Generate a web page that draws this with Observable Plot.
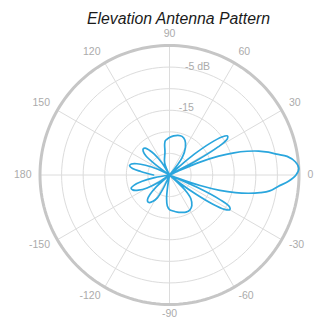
<!DOCTYPE html>
<html>
<head>
<meta charset="utf-8">
<script src="https://cdn.jsdelivr.net/npm/d3@7"></script>
<script src="https://cdn.jsdelivr.net/npm/@observablehq/plot@0.6"></script>
<style>
  html, body { margin: 0; padding: 0; background: #fff; }
  svg { display: block; }
</style>
</head>
<body>
<div id="chart"></div>
<script>
// ---- data ----
const title = "Elevation Antenna Pattern";
// elevation angle (deg) and gain (dB), clipped at the -30 dB floor
const angles = [
  -180, -173, -170, -167, -164, -161, -158, -154, -150, -146, -143,
  -141, -138, -135, -132, -129, -126, -122, -118, -115, -112,
  -101, -99, -97, -94, -90, -84, -78, -72, -66, -60, -54, -48, -44, -41,
  -40, -38, -36, -34, -32, -30, -28, -26, -24,
  -23, -21, -19, -17, -15, -13, -11, -9, -6, -3,
  0,
  3, 6, 9, 11, 13, 15, 17, 19, 21, 23,
  24, 26, 28, 30, 32, 34, 36, 38, 40,
  41, 44, 48, 54, 60, 66, 72, 78, 84, 90, 94, 97, 99, 101,
  112, 115, 118, 122, 126, 129, 132, 135, 138, 141,
  143, 146, 150, 154, 158, 161, 164, 167, 170, 173, 180
];
const gains = [
  -30, -30, -26.5, -23.5, -21.5, -20.6, -20.8, -22, -24, -27, -30,
  -30, -25.8, -23.6, -22.4, -22, -22.1, -22.8, -24, -26.5, -30,
  -30, -27, -24.5, -22.8, -22, -21.6, -21.2, -20.9, -20.6, -20.6, -21.2, -22.6, -25, -30,
  -30, -27, -22.5, -18, -15, -13.9, -14.2, -17, -23, -30,
  -28, -22.5, -17.8, -14.2, -11.2, -8.6, -6.5, -4.7, -2.4, -0.7,
  0,
  -0.7, -2.4, -4.7, -6.5, -8.6, -11.2, -14.2, -17.8, -22.5, -28,
  -30, -23, -17, -14.2, -13.8, -15, -18, -22.5, -27, -30,
  -30, -25, -22.6, -21.2, -20.6, -20.6, -20.9, -21.3, -21.7, -22, -22.8, -24.5, -27, -30,
  -30, -26.5, -24, -22.6, -21.6, -21.4, -21.8, -23, -25.5, -30,
  -30, -27, -24, -22, -20.8, -20.5, -21.3, -23.3, -26.3, -30, -30
];
const ringValues = [-25, -20, -15, -10, -5];   // inner grid rings (dB)
const outerRing = 0;                          // outer boundary (dB)
const floorDb = -30;                          // centre of the plot (dB)
const spokeAngles = [0, 30, 60, 90, 120, 150, 180, 210, 240, 270, 300, 330];
const angleLabels = ["0", "30", "60", "90", "120", "150", "180", "-150", "-120", "-90", "-60", "-30"];
const ringLabelValues = [-5, -15];
const ringLabelTexts = ["-5 dB", "-15"];

// ---- build ----
const pattern = angles.map((a, i) => ({a, g: gains[i]}));
const rad = d => Math.PI * d / 180;
const rOf = g => Math.max(g, floorDb) - floorDb;  // radial distance in scale units
const X = (g, a) => rOf(g) * Math.cos(rad(a));
const Y = (g, a) => rOf(g) * Math.sin(rad(a));

const cx = 169, cy = 174.5, R = 129.5;
const span = outerRing - floorDb;

const ringPts = ringValues.flatMap(g => d3.range(0, 361, 3).map(a => ({g, a})));
const outerPts = d3.range(0, 361, 2).map(a => ({g: outerRing, a}));
const spokes = spokeAngles.flatMap(a => [{a, g: floorDb}, {a, g: outerRing}]);
const labelR = 138 / R * span + floorDb; // label ring (in dB units, just outside the plot)
const aLabels = spokeAngles.map((a, i) => ({a, text: angleLabels[i]}));
const rLabels = ringLabelValues.map((g, i) => ({g, text: ringLabelTexts[i]}));

const font = "'Liberation Sans', Arial, Helvetica, sans-serif";
const labelGray = "#ababab";

const anchorFor = a => {
  const c = Math.cos(rad(a));
  return c > 0.1 ? "start" : c < -0.1 ? "end" : "middle";
};
const lineAnchorFor = a => {
  const s = Math.sin(rad(a));
  return s > 0.1 ? "bottom" : s < -0.1 ? "top" : "middle";
};

const groups = d3.groups(aLabels, d => anchorFor(d.a) + "|" + lineAnchorFor(d.a));

const chart = Plot.plot({
  width: 314,
  height: 319,
  margin: 0,
  style: {fontFamily: font, background: "#fff", overflow: "visible"},
  x: {domain: [-span, span], range: [cx - R, cx + R], axis: null},
  y: {domain: [-span, span], range: [cy + R, cy - R], axis: null},
  marks: [
    Plot.line(ringPts, {x: d => X(d.g, d.a), y: d => Y(d.g, d.a), z: "g", stroke: "#dcdcdc", strokeWidth: 1}),
    Plot.line(spokes, {x: d => X(d.g, d.a), y: d => Y(d.g, d.a), z: "a", stroke: "#dcdcdc", strokeWidth: 1}),
    Plot.line(outerPts, {x: d => X(d.g, d.a), y: d => Y(d.g, d.a), stroke: "#c6c6c6", strokeWidth: 3}),
    Plot.line(pattern, {x: d => X(d.g, d.a), y: d => Y(d.g, d.a), stroke: "#2aa6dd", strokeWidth: 1.7, curve: "catmull-rom", strokeLinejoin: "round"}),
    ...groups.map(([key, arr]) => {
      const [ta, la] = key.split("|");
      return Plot.text(arr, {
        x: d => X(labelR, d.a), y: d => Y(labelR, d.a), text: "text",
        textAnchor: ta, lineAnchor: la, fill: labelGray, fontSize: 10.5,
        dy: la === "top" ? -3 : 0
      });
    }),
    Plot.text(rLabels, {
      x: d => X(d.g, 75), y: d => Y(d.g, 75), text: "text",
      textAnchor: "middle", lineAnchor: "bottom", dy: -1, fill: labelGray, fontSize: 10.5
    }),
    Plot.text([title], {
      frameAnchor: "top", dx: 21, dy: 12, text: d => d,
      fontSize: 15.8, fontStyle: "italic", fill: "#1a1a1a"
    })
  ]
});
document.getElementById("chart").appendChild(chart);
</script>
</body>
</html>
